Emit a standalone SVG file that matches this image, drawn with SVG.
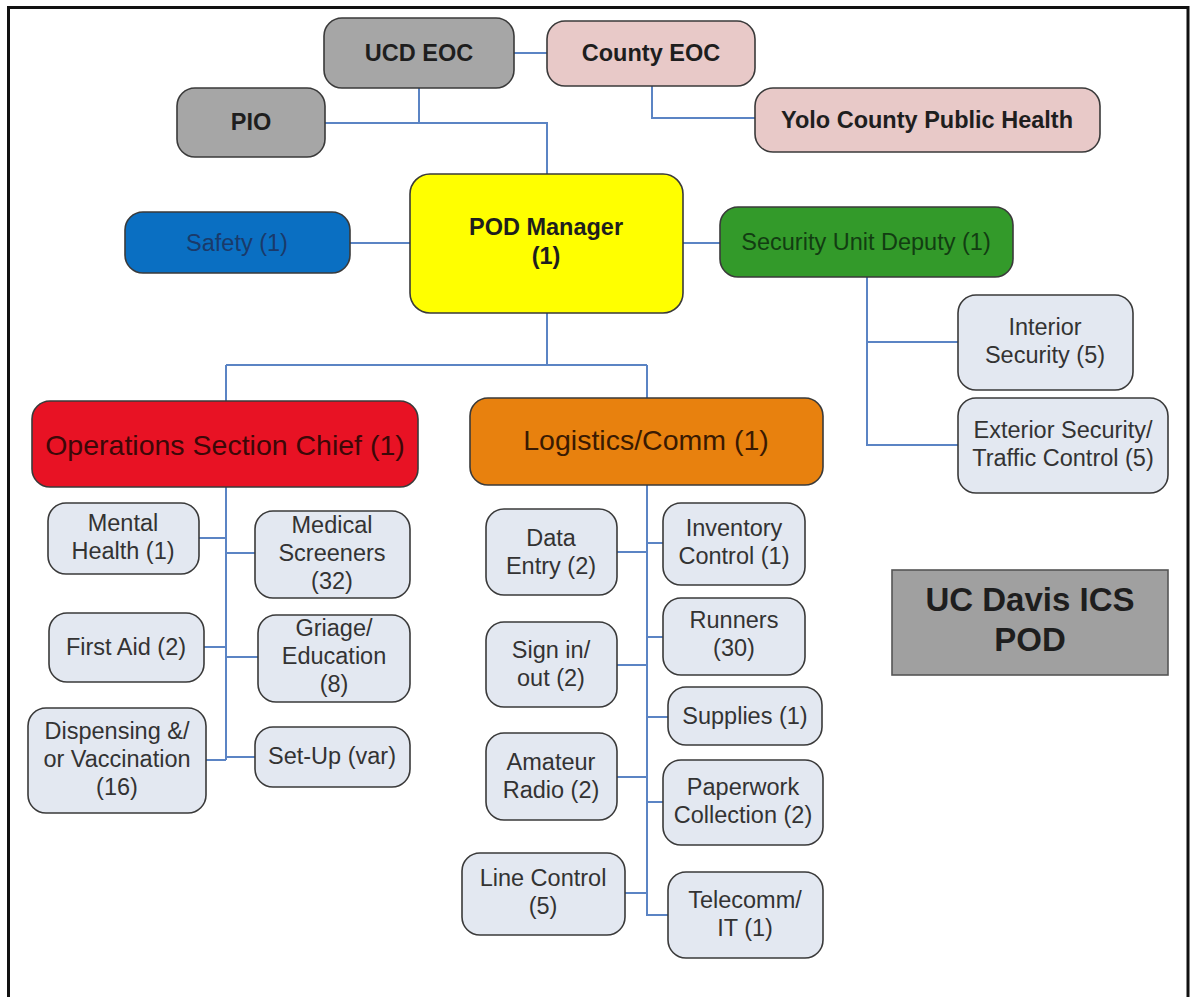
<svg xmlns="http://www.w3.org/2000/svg" width="1191" height="997" viewBox="0 0 1191 997">
<style>
.b{stroke:#3a3a3a;stroke-width:1.6}
.lt{fill:#e3e8f1}
.gr{fill:#a6a6a6}
.pk{fill:#e8c9c8}
text{font-family:"Liberation Sans",Arial,sans-serif;font-size:23.5px;text-anchor:middle}
.bd{font-weight:bold;fill:#1e1e1e}
.s{fill:#333}
.c{fill:none;stroke:#5b84c4;stroke-width:2}
</style>
<rect width="1191" height="997" fill="#fff"/>
<path d="M8.5 997V7.5H1188V997" fill="none" stroke="#111" stroke-width="3"/>
<g id="connectors" class="c">
<path d="M514 53H547"/>
<path d="M652 86V118H755"/>
<path d="M419 88V123H547V174"/>
<path d="M325 123H419"/>
<path d="M350 243H410"/>
<path d="M683 243H720"/>
<path d="M867 277V445H958M867 342H958"/>
<path d="M547 313V365M226 365H647M226 365V401M647 365V398"/>
<path d="M226 487V760M199 538H226M226 553H255M204 647H226M226 657H258M206 760H226M226 757H255"/>
<path d="M647 485V915H668M617 552H647M647 543H663M647 637H663M617 665H647M647 717H668M617 777H647M647 802H663M625 893H647"/>
</g>
<g id="ucd-eoc"><rect class="b gr" x="324" y="18" width="190" height="70" rx="18"/><text class="bd" x="419" y="61">UCD EOC</text></g>
<g id="county-eoc"><rect class="b pk" x="547" y="21" width="208" height="65" rx="18"/><text class="bd" x="651" y="61">County EOC</text></g>
<g id="pio"><rect class="b gr" x="177" y="88" width="148" height="69" rx="18"/><text class="bd" x="251" y="130">PIO</text></g>
<g id="yolo"><rect class="b pk" x="755" y="88" width="345" height="64" rx="18"/><text class="bd" x="927" y="128">Yolo County Public Health</text></g>
<g id="pod-manager"><rect class="b" fill="#ffff00" x="410" y="174" width="273" height="139" rx="20"/><text class="bd" x="546" y="235">POD Manager</text><text class="bd" x="546" y="264">(1)</text></g>
<g id="safety"><rect class="b" fill="#0a6fc2" x="125" y="212" width="225" height="61" rx="18"/><text x="237" y="251" fill="#1a3a6a">Safety (1)</text></g>
<g id="security-deputy"><rect class="b" fill="#339a2a" x="720" y="207" width="293" height="70" rx="18"/><text x="866" y="250" fill="#123d12">Security Unit Deputy (1)</text></g>
<g id="interior-security"><rect class="b lt" x="958" y="295" width="175" height="95" rx="18"/><text class="s" x="1045" y="335">Interior</text><text class="s" x="1045" y="363">Security (5)</text></g>
<g id="exterior-security"><rect class="b lt" x="958" y="398" width="210" height="95" rx="18"/><text class="s" x="1063" y="438">Exterior Security/</text><text class="s" x="1063" y="466">Traffic Control (5)</text></g>
<g id="title"><rect x="892" y="570" width="276" height="105" fill="#a0a0a0" stroke="#555" stroke-width="1.6"/><text class="bd" style="font-size:33px" x="1030" y="611">UC Davis ICS</text><text class="bd" style="font-size:33px" x="1030" y="651">POD</text></g>
<g id="operations"><rect class="b" fill="#e81224" x="32" y="401" width="386" height="86" rx="18"/><text x="225" y="455" fill="#3c0808" style="font-size:28.5px">Operations Section Chief (1)</text></g>
<g id="logistics"><rect class="b" fill="#e8810e" x="470" y="398" width="353" height="87" rx="18"/><text x="646" y="450" fill="#3a1a02" style="font-size:28.5px">Logistics/Comm (1)</text></g>
<g id="mental-health"><rect class="b lt" x="48" y="503" width="151" height="71" rx="18"/><text class="s" x="123" y="531">Mental</text><text class="s" x="123" y="559">Health (1)</text></g>
<g id="medical-screeners"><rect class="b lt" x="255" y="511" width="155" height="87" rx="18"/><text class="s" x="332" y="533">Medical</text><text class="s" x="332" y="561">Screeners</text><text class="s" x="332" y="589">(32)</text></g>
<g id="first-aid"><rect class="b lt" x="49" y="613" width="155" height="69" rx="18"/><text class="s" x="126" y="655">First Aid (2)</text></g>
<g id="griage"><rect class="b lt" x="258" y="615" width="152" height="87" rx="18"/><text class="s" x="334" y="636">Griage/</text><text class="s" x="334" y="664">Education</text><text class="s" x="334" y="692">(8)</text></g>
<g id="dispensing"><rect class="b lt" x="28" y="708" width="178" height="105" rx="18"/><text class="s" x="117" y="739">Dispensing &amp;/</text><text class="s" x="117" y="767">or Vaccination</text><text class="s" x="117" y="795">(16)</text></g>
<g id="set-up"><rect class="b lt" x="255" y="727" width="155" height="60" rx="18"/><text class="s" x="332" y="764">Set-Up (var)</text></g>
<g id="data-entry"><rect class="b lt" x="486" y="509" width="131" height="86" rx="18"/><text class="s" x="551" y="546">Data</text><text class="s" x="551" y="574">Entry (2)</text></g>
<g id="inventory-control"><rect class="b lt" x="663" y="503" width="142" height="82" rx="18"/><text class="s" x="734" y="536">Inventory</text><text class="s" x="734" y="564">Control (1)</text></g>
<g id="runners"><rect class="b lt" x="663" y="598" width="142" height="77" rx="18"/><text class="s" x="734" y="628">Runners</text><text class="s" x="734" y="656">(30)</text></g>
<g id="sign-in"><rect class="b lt" x="486" y="622" width="131" height="85" rx="18"/><text class="s" x="551" y="658">Sign in/</text><text class="s" x="551" y="686">out (2)</text></g>
<g id="supplies"><rect class="b lt" x="668" y="687" width="154" height="58" rx="18"/><text class="s" x="745" y="724">Supplies (1)</text></g>
<g id="amateur-radio"><rect class="b lt" x="486" y="733" width="131" height="87" rx="18"/><text class="s" x="551" y="770">Amateur</text><text class="s" x="551" y="798">Radio (2)</text></g>
<g id="paperwork"><rect class="b lt" x="663" y="760" width="160" height="85" rx="18"/><text class="s" x="743" y="795">Paperwork</text><text class="s" x="743" y="823">Collection (2)</text></g>
<g id="line-control"><rect class="b lt" x="462" y="853" width="163" height="82" rx="18"/><text class="s" x="543" y="886">Line Control</text><text class="s" x="543" y="914">(5)</text></g>
<g id="telecomm"><rect class="b lt" x="668" y="872" width="155" height="86" rx="18"/><text class="s" x="745" y="908">Telecomm/</text><text class="s" x="745" y="936">IT (1)</text></g>
</svg>
